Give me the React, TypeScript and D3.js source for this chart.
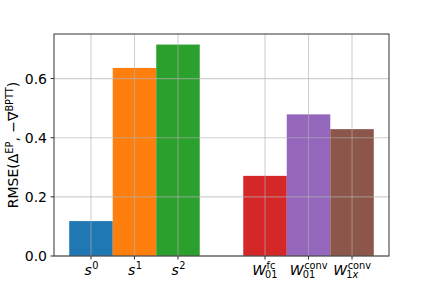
import React from 'react';
import * as d3 from 'd3';

// bar data
const bases = ['s', 's', 's', 'W', 'W', 'W'];
const sups = ['0', '1', '2', 'fc', 'conv', 'conv'];
const subs = ['', '', '', '01', '01', '1x'];
const positions = [0, 1, 2, 4, 5, 6];
const values = [0.118, 0.636, 0.715, 0.271, 0.479, 0.429];
const colors = ['#1f77b4', '#ff7f0e', '#2ca02c', '#d62728', '#9467bd', '#8c564b'];
const yTicks = [0, 0.2, 0.4, 0.6];

const W = 432;
const H = 288;
const left = 54, right = 389, top = 34, bottom = 256;
const font = 'DejaVu Sans, sans-serif';
const fs = 14;

const TickLabel = ({ i, x }: { i: number; x: number }) => {
  const base = bases[i];
  const sup = sups[i];
  const sub = subs[i];
  const small = fs * 0.7;
  const baseW = base === 'W' ? fs * 0.99 : fs * 0.52;
  const scriptW = Math.max(sup.length, sub.length) * small * 0.6;
  const x0 = x - (baseW + scriptW) / 2;
  const baseline = 275;
  return (
    <g fontFamily={font} fill="#000">
      <text x={x0} y={baseline} fontSize={fs} fontStyle="italic">{base}</text>
      <text x={x0 + baseW + 0.5} y={baseline - 6.5} fontSize={small}>{sup}</text>
      {sub && (
        <text x={x0 + baseW - 1} y={baseline + 3} fontSize={small}>
          {sub === '1x' ? (<><tspan>1</tspan><tspan fontStyle="italic">x</tspan></>) : sub}
        </text>
      )}
    </g>
  );
};

export default function App() {
  const x = d3.scaleLinear().domain([-0.85, 6.85]).range([left, right]);
  const y = d3.scaleLinear().domain([0, 0.715 * 1.05]).range([bottom, top]);
  const bw = x(1) - x(0);

  return (
    <div style={{ position: 'absolute', left: 0, top: 0, width: W, height: H, background: '#fff' }}>
      <svg width={W} height={H} style={{ display: 'block' }}>
        <rect width={W} height={H} fill="#fff" />
        {positions.map((p, i) => (
          <rect key={i} x={x(p) - bw / 2} y={y(values[i])} width={bw} height={bottom - y(values[i])} fill={colors[i]} />
        ))}
        {/* grid on top */}
        <g stroke="#b0b0b0" strokeOpacity={0.6} strokeWidth={1.1}>
          {positions.map((p, i) => (
            <line key={'gx' + i} x1={x(p)} x2={x(p)} y1={top} y2={bottom} />
          ))}
          {yTicks.map((t, i) => (
            <line key={'gy' + i} x1={left} x2={right} y1={y(t)} y2={y(t)} />
          ))}
        </g>
        {/* spines */}
        <rect x={left} y={top} width={right - left} height={bottom - top} fill="none" stroke="#333" strokeWidth={1} />
        {/* y ticks */}
        {yTicks.map((t, i) => (
          <g key={'yt' + i}>
            <line x1={left - 3.5} x2={left} y1={y(t)} y2={y(t)} stroke="#333" />
            <text x={left - 7} y={y(t)} dy="0.36em" textAnchor="end" fontSize={fs} fontFamily={font}>{t.toFixed(1)}</text>
          </g>
        ))}
        {/* x ticks */}
        {positions.map((p, i) => (
          <g key={'xt' + i}>
            <line x1={x(p)} x2={x(p)} y1={bottom} y2={bottom + 3.5} stroke="#333" />
            <TickLabel i={i} x={x(p)} />
          </g>
        ))}
        {/* y label */}
        <text transform={`translate(18,${(top + bottom) / 2}) rotate(-90)`} textAnchor="middle" fontSize={fs} fontFamily={font}>
          RMSE(Δ<tspan dy={-5.5} fontSize={fs * 0.7}>EP</tspan><tspan dy={5.5}>, −∇</tspan><tspan dy={-5.5} fontSize={fs * 0.7}>BPTT</tspan><tspan dy={5.5}>)</tspan>
        </text>
      </svg>
    </div>
  );
}
